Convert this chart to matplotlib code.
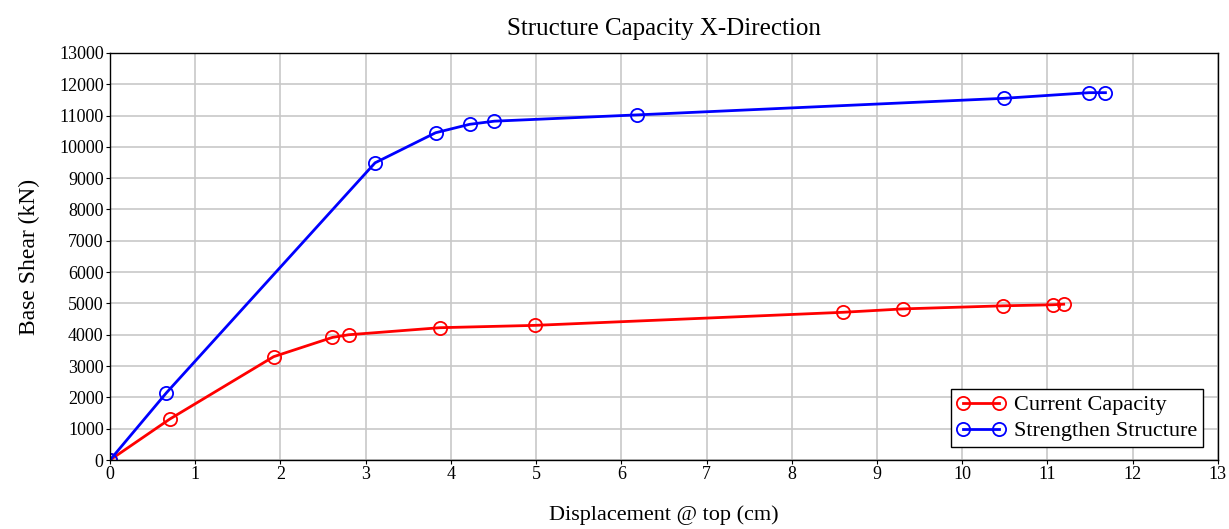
import numpy as np
import matplotlib.pyplot as plt

# pushover curves
disp_current = [0, 0.70, 1.92, 2.61, 2.80, 3.87, 4.99, 8.60, 9.31, 10.48, 11.06, 11.19]
shear_current = [0, 1305, 3300, 3915, 4000, 4225, 4300, 4717, 4826, 4924, 4957, 4975]

disp_strength = [0, 0.66, 3.11, 3.82, 4.22, 4.51, 6.18, 10.49, 11.49, 11.68]
shear_strength = [0, 2140, 9490, 10450, 10720, 10820, 11020, 11550, 11730, 11730]

x_ticks = np.arange(0, 14, 1)
y_ticks = np.arange(0, 14000, 1000)

plt.rcParams['font.family'] = ['Liberation Serif', 'DejaVu Serif']

fig = plt.figure(figsize=(12.29, 5.29), dpi=100)
ax = fig.add_axes([0.0895, 0.1304, 0.9015, 0.7696])

style = dict(lw=2.0, marker='o', markersize=9.5, markerfacecolor='none', markeredgewidth=1.3)
ax.plot(disp_current, shear_current, color='#ff0000', label='Current Capacity', **style)
ax.plot(disp_strength, shear_strength, color='#0000ff', label='Strengthen Structure', **style)

ax.set_xlim(0, 13)
ax.set_ylim(0, 13000)
ax.set_xticks(x_ticks)
ax.set_yticks(y_ticks)
ax.tick_params(labelsize=13, length=3, width=0.8, pad=1.5)
ax.grid(True, color='#c8c8c8', linewidth=1.2)
ax.set_axisbelow(True)
for s in ax.spines.values():
    s.set_linewidth(1.0)
    s.set_color('black')

ax.set_title('Structure Capacity X-Direction', fontsize=18, pad=13)
ax.set_xlabel('Displacement @ top (cm)', fontsize=16, labelpad=16)
ax.set_ylabel('Base Shear (kN)', fontsize=17, labelpad=14)

leg = ax.legend(loc='lower right', numpoints=2, fontsize=16, fancybox=False, framealpha=1,
                edgecolor='black', borderpad=0.25, handlelength=2.2, handletextpad=0.4,
                labelspacing=0.25, borderaxespad=0, bbox_to_anchor=(0.9865, 0.032))
leg.get_frame().set_linewidth(1.0)

fig.savefig('out.png', dpi=100)
